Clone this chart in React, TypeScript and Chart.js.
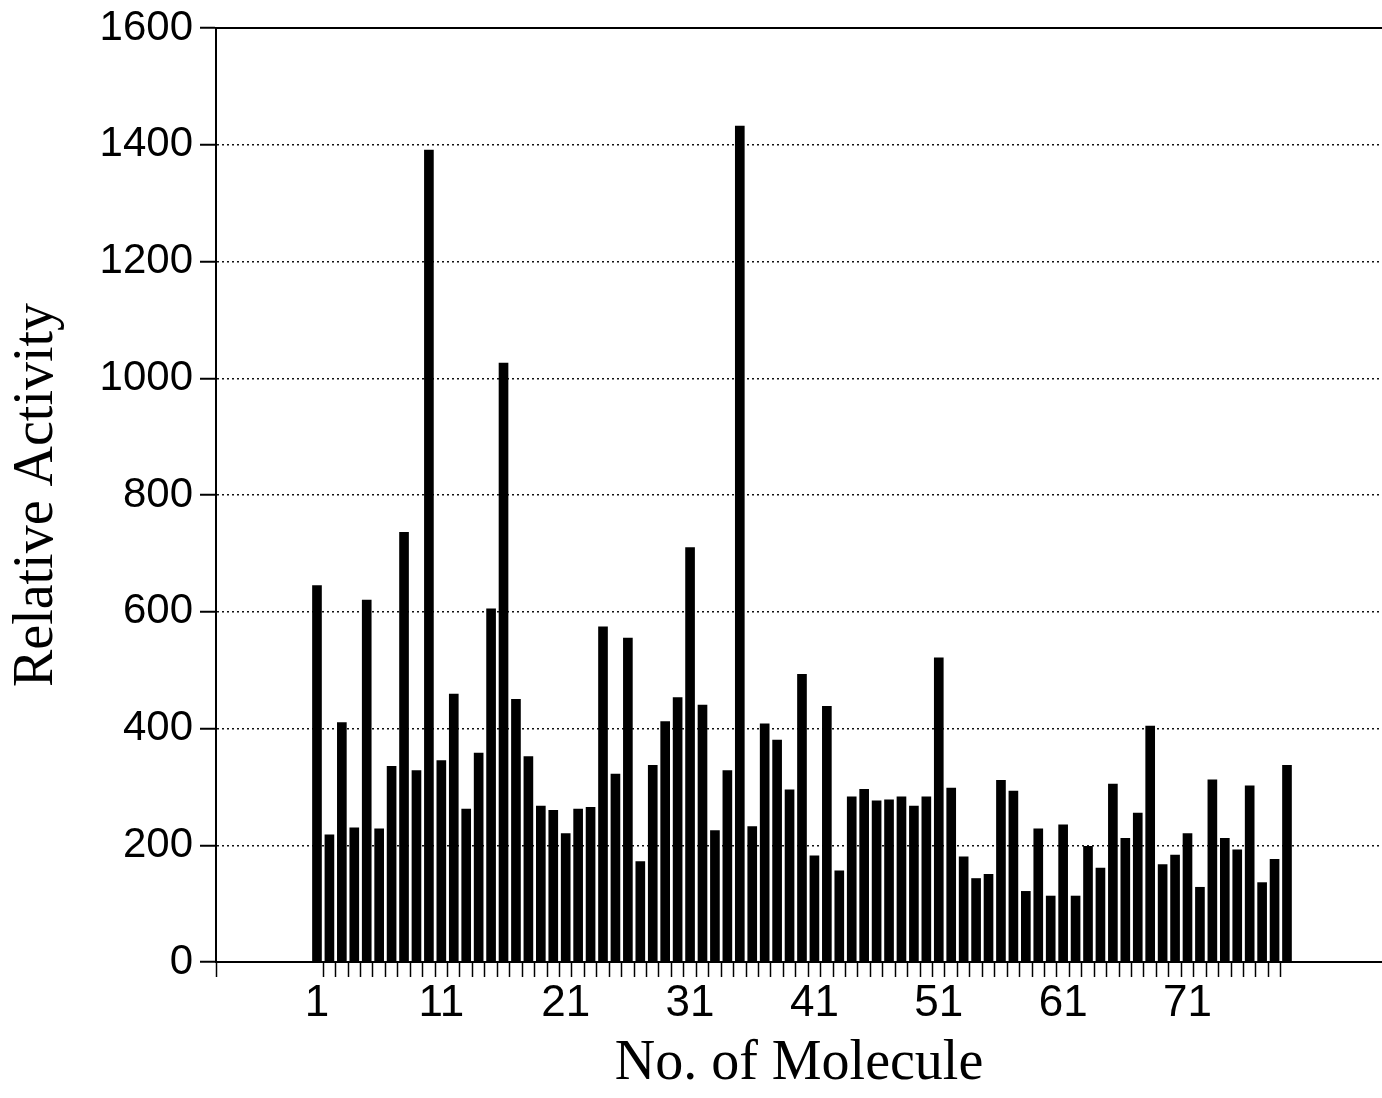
import React, { useEffect, useRef } from "react";
import { Chart, registerables } from "chart.js";

Chart.register(...registerables);

// Molecule numbers (categories)
const molecules: number[] = [
  1, 2, 3, 4, 5, 6, 7, 8, 9, 10,
  11, 12, 13, 14, 15, 16, 17, 18, 19, 20,
  21, 22, 23, 24, 25, 26, 27, 28, 29, 30,
  31, 32, 33, 34, 35, 36, 37, 38, 39, 40,
  41, 42, 43, 44, 45, 46, 47, 48, 49, 50,
  51, 52, 53, 54, 55, 56, 57, 58, 59, 60,
  61, 62, 63, 64, 65, 66, 67, 68, 69, 70,
  71, 72, 73, 74, 75, 76, 77, 78, 79,
];

// Relative activity per molecule
const activity: number[] = [
  645, 218, 410, 230, 620, 228, 335, 736, 328, 1391,
  345, 459, 262, 358, 605, 1026, 450, 352, 267, 260,
  220, 262, 265, 574, 322, 555, 172, 337, 412, 453,
  710, 440, 225, 328, 1432, 232, 408, 380, 295, 493,
  182, 438, 156, 283, 296, 276, 278, 283, 267, 283,
  521, 298, 180, 143, 150, 311, 293, 121, 228, 113,
  235, 113, 198, 161, 305, 212, 255, 404, 167, 183,
  220, 128, 312, 212, 192, 302, 136, 176, 337,
];

const xTickLabels: number[] = [1, 11, 21, 31, 41, 51, 61, 71];
const yTickValues: number[] = [0, 200, 400, 600, 800, 1000, 1200, 1400, 1600];

const X_MIN = -7.12;
const X_MAX = 86.64;

const topBorder = {
  id: "topBorder",
  afterDraw(chart: any) {
    const { ctx, chartArea } = chart;
    ctx.save();
    ctx.strokeStyle = "#000";
    ctx.lineWidth = 2;
    ctx.beginPath();
    ctx.moveTo(chartArea.left, chartArea.top);
    ctx.lineTo(chartArea.right, chartArea.top);
    ctx.stroke();
    ctx.restore();
  },
};

export default function App() {
  const canvasRef = useRef<HTMLCanvasElement | null>(null);

  useEffect(() => {
    if (!canvasRef.current) return;
    const chart = new Chart(canvasRef.current, {
      type: "bar",
      data: {
        datasets: [
          {
            label: "Relative Activity",
            data: molecules.map((m, i) => ({ x: m, y: activity[i] })),
            backgroundColor: "#000",
            borderWidth: 0,
            barThickness: 9,
          },
        ],
      },
      options: {
        animation: false,
        responsive: false,
        maintainAspectRatio: false,
        devicePixelRatio: 1,
        layout: { padding: { top: 28, left: 0, right: 0, bottom: 0 } },
        plugins: {
          legend: { display: false },
          tooltip: { enabled: false },
          title: { display: false },
        },
        scales: {
          x: {
            type: "linear",
            min: X_MIN,
            max: X_MAX,
            offset: false,
            afterFit(scale: any) {
              scale.height = 136;
            },
            afterBuildTicks(scale: any) {
              const vals: number[] = [X_MIN];
              molecules.slice(0, -1).forEach((m) => vals.push(m + 0.5));
              xTickLabels.forEach((v) => vals.push(v));
              vals.sort((a, b) => a - b);
              scale.ticks = vals.map((v) => ({ value: v }));
            },
            border: { display: true, color: "#000", width: 2 },
            grid: {
              offset: false,
              drawOnChartArea: false,
              drawTicks: true,
              tickLength: 15,
              tickWidth: 1.5,
              tickColor: (ctx: any) =>
                ctx.tick && xTickLabels.includes(ctx.tick.value)
                  ? "rgba(0,0,0,0)"
                  : "#000",
            },
            ticks: {
              autoSkip: false,
              maxRotation: 0,
              minRotation: 0,
              padding: 0,
              color: "#000",
              font: { family: "'Liberation Sans', Arial, sans-serif", size: 44 },
              callback: (value: any) =>
                xTickLabels.includes(Number(value)) ? String(value) : "",
            },
            title: {
              display: true,
              text: "No. of Molecule",
              color: "#000",
              font: { family: "'Liberation Serif', 'Times New Roman', serif", size: 56 },
              padding: { top: 0, bottom: 0 },
            },
          },
          y: {
            type: "linear",
            min: 0,
            max: 1600,
            afterFit(scale: any) {
              scale.width = 216;
            },
            afterBuildTicks(scale: any) {
              scale.ticks = yTickValues.map((v) => ({ value: v }));
            },
            border: { display: true, color: "#000", width: 2, dash: [2, 3] },
            grid: {
              drawOnChartArea: true,
              color: (ctx: any) =>
                ctx.tick && (ctx.tick.value === 0 || ctx.tick.value === 1600)
                  ? "rgba(0,0,0,0)"
                  : "#111",
              lineWidth: 1.5,
              tickColor: "#000",
              tickLength: 16,
              tickWidth: 2,
            },
            ticks: {
              padding: 7,
              color: "#000",
              font: { family: "'Liberation Sans', Arial, sans-serif", size: 42, lineHeight: 1.0 },
              callback: (value: any) => String(value),
            },
            title: {
              display: true,
              text: "Relative Activity",
              color: "#000",
              font: { family: "'Liberation Serif', 'Times New Roman', serif", size: 56 },
              padding: { top: 4, bottom: 0 },
            },
          },
        },
      },
      plugins: [topBorder],
    });
    return () => chart.destroy();
  }, []);

  return (
    <div
      style={{
        position: "absolute",
        left: 0,
        top: 0,
        width: 1382,
        height: 1098,
        overflow: "hidden",
        background: "#fff",
      }}
    >
      <canvas
        ref={canvasRef}
        width={1382}
        height={1098}
        style={{ width: 1382, height: 1098, display: "block" }}
      />
    </div>
  );
}
